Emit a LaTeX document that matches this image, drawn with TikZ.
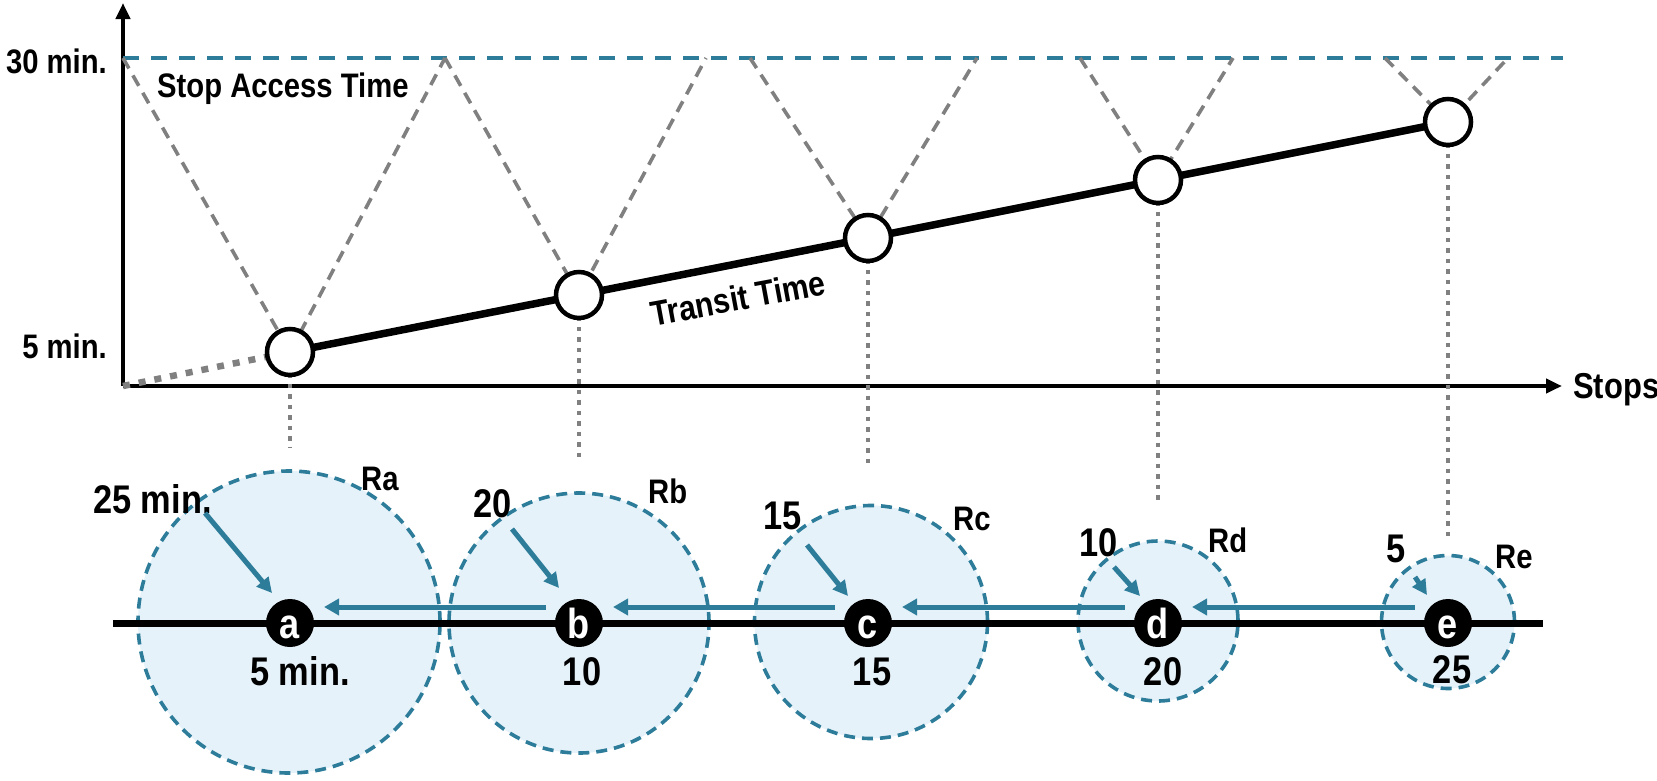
\documentclass[tikz,border=0pt]{standalone}
\usepackage{fontspec}
\setmainfont{Liberation Sans}[FakeStretch=0.86]
\usetikzlibrary{arrows.meta,calc}
\definecolor{tealA}{RGB}{44,124,154}
\definecolor{lblue}{RGB}{230,242,249}
\definecolor{gryA}{RGB}{128,128,128}
\begin{document}
\begin{tikzpicture}[x=1pt,y=-1pt,
  axisline/.style={line width=4.5pt, -{Triangle[length=16pt,width=14pt]}},
  capline/.style={tealA, line width=3.5pt, dash pattern=on 16pt off 12pt},
  vline/.style={gryA, line width=3.6pt, dash pattern=on 12pt off 8pt},
  dline/.style={gryA, line width=4.5pt, dash pattern=on 4.5pt off 6pt},
  odline/.style={gryA, line width=6.5pt, dash pattern=on 7pt off 9pt},
  transit/.style={line width=7.5pt},
  tstop/.style={circle, draw, line width=4.5pt, fill=white, minimum size=46pt, inner sep=0pt},
  region/.style={circle, draw=tealA, fill=lblue, line width=3.6pt, dash pattern=on 11pt off 7pt, inner sep=0pt},
  stopdot/.style={circle, fill=black, minimum size=48pt, inner sep=0pt},
  letter/.style={text=white, font=\fontsize{42}{42}\selectfont\bfseries, inner sep=0pt},
  lab/.style={font=\fontsize{34}{36}\selectfont\bfseries, inner sep=0pt},
  blab/.style={font=\fontsize{40}{44}\selectfont\bfseries, inner sep=0pt},
  rlab/.style={font=\fontsize{34}{38}\selectfont\bfseries, inner sep=0pt},
  harrow/.style={tealA, line width=5pt, -{Triangle[length=15pt,width=16pt]}},
  darrow/.style={tealA, line width=5pt, -{Triangle[length=15pt,width=15pt]}},
]
\useasboundingbox (0,0) rectangle (1657,780);
% ---------- top chart ----------
\coordinate (O) at (123,386);
\coordinate (ytop) at (123,3);
\coordinate (xend) at (1562,386);
\coordinate (cap0) at (123,58);
\coordinate (cap1) at (1563,58);
\coordinate (ca) at (290,352);
\coordinate (cb) at (579,295);
\coordinate (cc) at (868,238);
\coordinate (cd) at (1158,180);
\coordinate (ce) at (1448,122);
\coordinate (va1) at (123,58);  \coordinate (va2) at (445,58);
\coordinate (vb1) at (445,58);  \coordinate (vb2) at (706,58);
\coordinate (vc1) at (750,58);  \coordinate (vc2) at (977,58);
\coordinate (vd1) at (1080,58); \coordinate (vd2) at (1233,58);
\coordinate (ve1) at (1385,58); \coordinate (ve2) at (1508,58);
\coordinate (ea) at (290,447);
\coordinate (eb) at (579,457);
\coordinate (ec) at (868,467);
\coordinate (ed) at (1158,505);
\coordinate (ee) at (1448,537);

\draw[axisline] (O) -- (ytop);
\draw[axisline] (O) -- (xend);
\draw[capline] (cap0) -- (cap1);

\draw[vline] (va1) -- (ca) -- (va2);
\draw[vline] (vb1) -- (cb) -- (vb2);
\draw[vline] (vc1) -- (cc) -- (vc2);
\draw[vline] (vd1) -- (cd) -- (vd2);
\draw[vline] (ve1) -- (ce) -- (ve2);

\draw[dline] (ca) -- (ea);
\draw[dline] (cb) -- (eb);
\draw[dline] (cc) -- (ec);
\draw[dline] (cd) -- (ed);
\draw[dline] (ce) -- (ee);

\draw[odline] (O) -- (ca);
\draw[transit] (ca) -- (cb) -- (cc) -- (cd) -- (ce);

\node[tstop] (ta) at (ca) {};
\node[tstop] (tb) at (cb) {};
\node[tstop] (tc) at (cc) {};
\node[tstop] (td) at (cd) {};
\node[tstop] (te) at (ce) {};

\node[lab, anchor=base east] (l30) at (107,73) {30 min.};
\node[lab, anchor=base east] (l5) at (107,358) {5 min.};
\node[lab, anchor=base west] (sat) at (157,97) {Stop Access Time};
\node[lab, anchor=base west, font=\fontsize{36}{38}\selectfont\bfseries] (stops) at (1573,398) {Stops};
\node[lab, font=\fontsize{35}{38}\selectfont\bfseries, rotate=10.5] (tt) at (738,298) {Transit Time};

% ---------- bottom map ----------
\node[region, minimum size=302pt] (Ra) at (289,622) {};
\node[region, minimum size=260pt] (Rb) at (579,623) {};
\node[region, minimum size=233pt] (Rc) at (871,622) {};
\node[region, minimum size=160pt] (Rd) at (1158,621) {};
\node[region, minimum size=133pt] (Re) at (1448,622) {};

\coordinate (bl) at (113,623);
\coordinate (br) at (1543,623);
\draw[line width=7pt] (bl) -- (br);

\node[stopdot] (sa) at (290,623) {};
\node[stopdot] (sb) at (579,623) {};
\node[stopdot] (sc) at (868,623) {};
\node[stopdot] (sd) at (1158,623) {};
\node[stopdot] (se) at (1448,623) {};
\node[letter, anchor=base] (la) at ($(sa)+(0,15)$) {a};
\node[letter, anchor=base] (lb) at ($(sb)+(0,15)$) {b};
\node[letter, anchor=base] (lc) at ($(sc)+(0,15)$) {c};
\node[letter, anchor=base] (ld) at ($(sd)+(0,15)$) {d};
\node[letter, anchor=base] (le) at ($(se)+(0,15)$) {e};

\draw[harrow] ($(sb)+(-33,-16)$) -- ($(sa)+(34,-16)$);
\draw[harrow] ($(sc)+(-33,-16)$) -- ($(sb)+(34,-16)$);
\draw[harrow] ($(sd)+(-33,-16)$) -- ($(sc)+(34,-16)$);
\draw[harrow] ($(se)+(-33,-16)$) -- ($(sd)+(34,-16)$);

\node[blab, anchor=base west] (n25) at (93,513) {25 min.};
\node[blab, anchor=base west] (n20) at (473,517) {20};
\node[blab, anchor=base west] (n15) at (763,529) {15};
\node[blab, anchor=base west] (n10) at (1079,556) {10};
\node[blab, anchor=base west] (n5) at (1386,562) {5};

\coordinate (da) at (205,513);
\coordinate (db) at (512,529);
\coordinate (dc) at (807,545);
\coordinate (dd) at (1114,567);
\coordinate (de) at (1415,577);
\draw[darrow] (da) -- ($(sa)+(-18,-30)$);
\draw[darrow] (db) -- ($(sb)+(-20,-35)$);
\draw[darrow] (dc) -- ($(sc)+(-20,-27)$);
\draw[darrow] (dd) -- ($(sd)+(-18,-27)$);
\draw[darrow] (de) -- ($(se)+(-21,-28)$);

\node[rlab, anchor=base west] (ra) at (361,490) {Ra};
\node[rlab, anchor=base west] (rb) at (648,503) {Rb};
\node[rlab, anchor=base west] (rc) at (953,530) {Rc};
\node[rlab, anchor=base west] (rd) at (1208,552) {Rd};
\node[rlab, anchor=base west] (re) at (1495,568) {Re};

\node[blab, anchor=base] (ba) at (300,685) {5 min.};
\node[blab, anchor=base] (bb) at (582,685) {10};
\node[blab, anchor=base] (bc) at (872,685) {15};
\node[blab, anchor=base] (bd) at (1163,685) {20};
\node[blab, anchor=base] (be) at (1452,683) {25};
\end{tikzpicture}
\end{document}
